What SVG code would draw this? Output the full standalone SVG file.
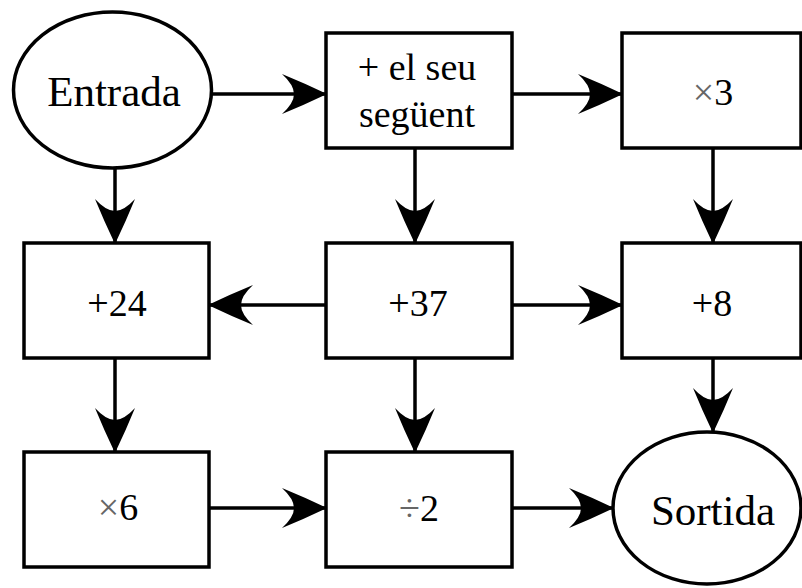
<svg xmlns="http://www.w3.org/2000/svg" width="802" height="588" viewBox="0 0 802 588">
<style>
.n{fill:#fff;stroke:#000;stroke-width:3.5}
.t{font-family:"Liberation Serif","Times New Roman",serif;font-size:38px;fill:#000;text-anchor:middle}
.e{font-size:43px}
.op{fill:#666}
.c{stroke:#000;stroke-width:3.5;fill:none;marker-end:url(#ah)}
</style>
<defs>
<marker id="ah" markerUnits="userSpaceOnUse" markerWidth="48" markerHeight="44" viewBox="-46 -22 48 44" refX="0" refY="0" orient="auto">
<path d="M1,0 Q-22,-11 -44,-20 Q-32,-9 -32,0 Q-32,9 -44,20 Q-22,11 1,0 Z" fill="#000"/>
</marker>
</defs>
<rect width="802" height="588" fill="#fff"/>
<g id="connectors">
<line class="c" x1="212" y1="94" x2="326" y2="94"/>
<line class="c" x1="512" y1="94" x2="622" y2="94"/>
<line class="c" x1="115" y1="168" x2="115" y2="243"/>
<line class="c" x1="415" y1="148" x2="415" y2="243"/>
<line class="c" x1="713" y1="148" x2="713" y2="243"/>
<line class="c" x1="326" y1="305" x2="209" y2="305"/>
<line class="c" x1="512" y1="305" x2="622" y2="305"/>
<line class="c" x1="115" y1="358" x2="115" y2="452"/>
<line class="c" x1="415" y1="358" x2="415" y2="452"/>
<line class="c" x1="713" y1="358" x2="713" y2="432"/>
<line class="c" x1="209" y1="508" x2="326" y2="508"/>
<line class="c" x1="512" y1="508" x2="613" y2="508"/>
</g>
<g id="entrada">
<ellipse class="n" cx="112.5" cy="90" rx="99" ry="78"/>
<text class="t e" x="114" y="106">Entrada</text>
</g>
<g id="seguent">
<rect class="n" x="326" y="33" width="186" height="115"/>
<text class="t" x="417" y="80">+ el seu</text>
<text class="t" x="417" y="127">següent</text>
</g>
<g id="per3">
<rect class="n" x="622" y="33" width="179" height="115"/>
<text class="t" x="713" y="105"><tspan class="op">×</tspan>3</text>
</g>
<g id="mes24">
<rect class="n" x="24" y="243" width="185" height="115"/>
<text class="t" x="117" y="316">+24</text>
</g>
<g id="mes37">
<rect class="n" x="326" y="243" width="186" height="115"/>
<text class="t" x="418" y="316">+37</text>
</g>
<g id="mes8">
<rect class="n" x="622" y="243" width="179" height="115"/>
<text class="t" x="712" y="316">+8</text>
</g>
<g id="per6">
<rect class="n" x="24" y="452" width="185" height="115"/>
<text class="t" x="118" y="520"><tspan class="op">×</tspan>6</text>
</g>
<g id="entre2">
<rect class="n" x="326" y="452" width="186" height="115"/>
<text class="t" x="419" y="521"><tspan class="op">÷</tspan>2</text>
</g>
<g id="sortida">
<ellipse class="n" cx="707" cy="508" rx="94" ry="76"/>
<text class="t e" x="713" y="525">Sortida</text>
</g>
</svg>
